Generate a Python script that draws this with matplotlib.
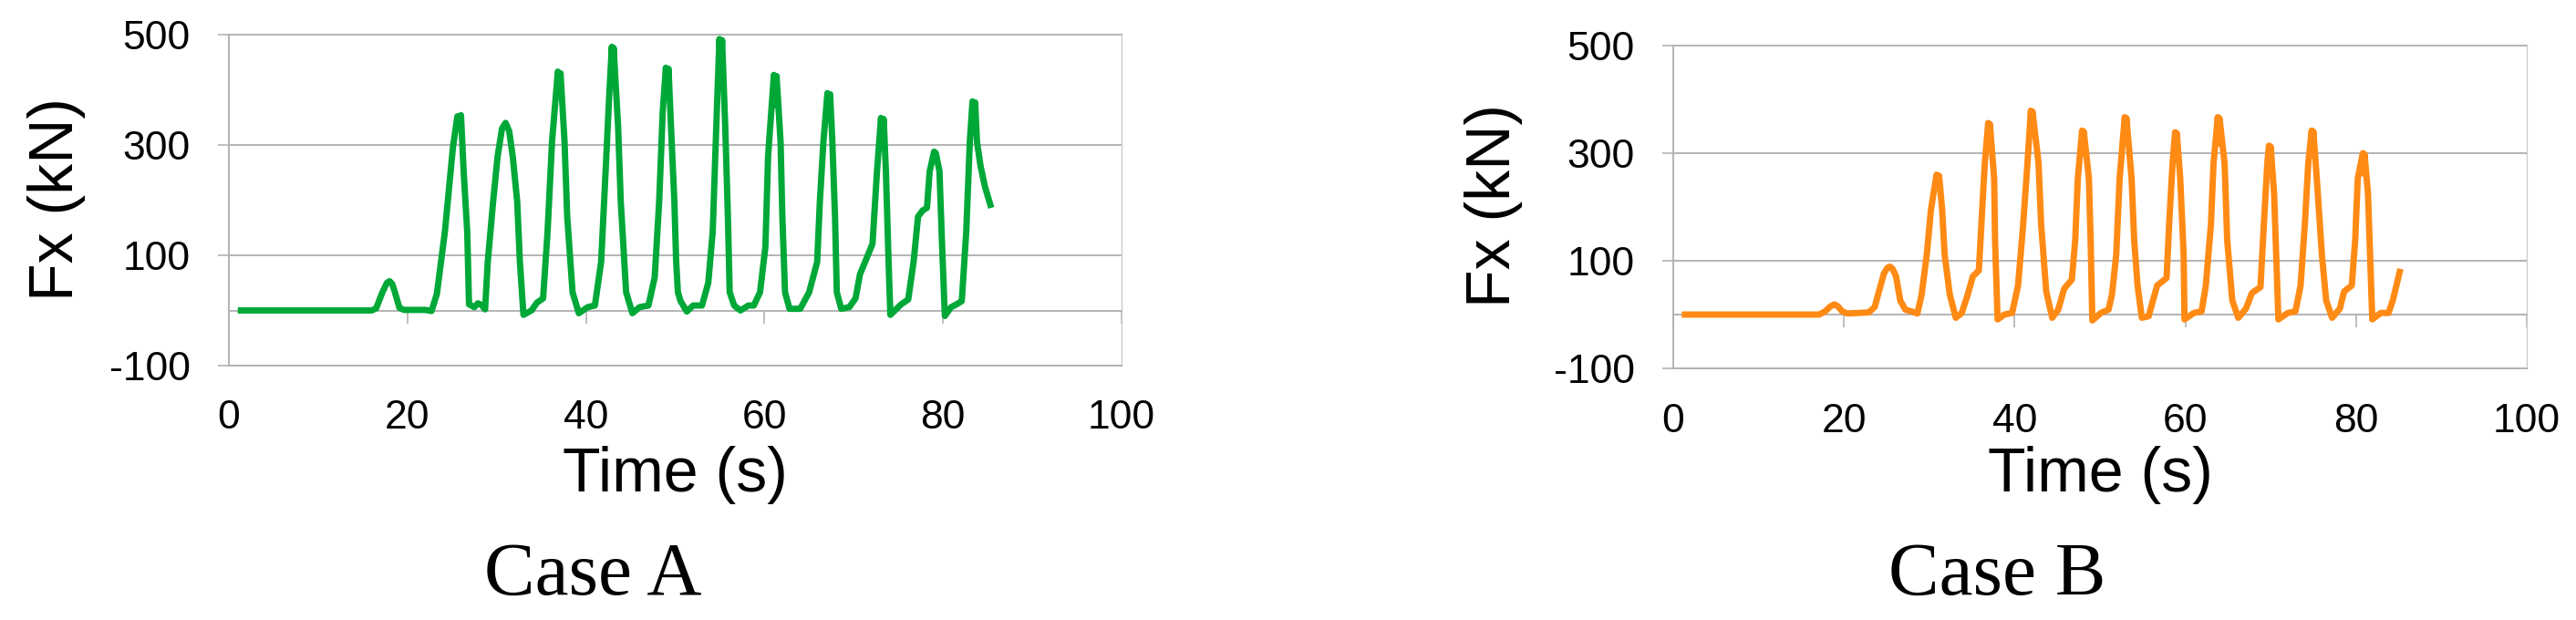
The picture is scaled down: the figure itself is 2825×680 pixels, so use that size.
import matplotlib
matplotlib.use('Agg')
import matplotlib.pyplot as plt

# ---------------- data ----------------
x_ticks = [0, 20, 40, 60, 80, 100]
x_tick_labels = ['0', '20', '40', '60', '80', '100']
y_ticks = [-100, 100, 300, 500]
y_tick_labels = ['-100', '100', '300', '500']

time_a = [1.0, 16.0, 16.5, 17.2, 17.7, 18.0, 18.3, 18.6, 19.1, 19.6, 22.0, 22.7, 23.3, 24.2, 25.1,
          25.6, 25.8, 26.0, 26.3, 26.7, 26.9, 27.5, 27.9, 28.3, 28.7, 29.0, 29.6, 30.1, 30.6, 31.0,
          31.4, 31.8, 32.3, 32.6, 33.0, 33.9, 34.5, 35.2, 35.7, 36.2, 36.85, 37.0, 37.15, 37.6, 37.9,
          38.5, 39.2, 40.2, 41.0, 41.7, 42.2, 42.6, 42.9, 43.0, 43.1, 43.6, 43.9, 44.5, 45.2, 46.0,
          47.0, 47.7, 48.2, 48.6, 48.95, 49.1, 49.25, 49.6, 49.9, 50.1, 50.3, 50.6, 51.3, 52.0, 53.0,
          53.7, 54.2, 54.6, 54.95, 55.1, 55.25, 55.6, 55.9, 56.1, 56.6, 57.3, 58.2, 58.8, 59.5, 60.1,
          60.4, 61.05, 61.2, 61.35, 61.8, 62.0, 62.3, 62.8, 64.0, 65.0, 65.9, 66.2, 66.6, 67.05, 67.2,
          67.35, 67.6, 67.9, 68.1, 68.6, 69.5, 70.2, 70.7, 71.4, 72.1, 72.6, 73.05, 73.2, 73.35, 73.6,
          73.9, 74.1, 75.3, 76.1, 76.7, 77.2, 77.7, 78.2, 78.5, 79.0, 79.2, 79.6, 79.9, 80.2, 80.9,
          81.5, 82.1, 82.6, 83.0, 83.3, 83.45, 83.6, 83.8, 84.2, 84.7, 85.4]
fx_a = [0, 0, 4, 33, 50, 53, 48, 33, 5, 1, 1, -1, 30, 143, 296,
        352, 336, 354, 252, 143, 11, 6, 13, 10, 2, 88, 197, 279, 330, 340,
        325, 279, 197, 88, -8, 0, 14, 22, 143, 306, 433, 400, 430, 306, 170,
        33, -5, 6, 9, 88, 252, 388, 478, 428, 476, 334, 197, 33, -5, 6,
        9, 60, 197, 361, 440, 398, 438, 306, 200, 90, 33, 17, -2, 9, 9,
        50, 143, 334, 492, 436, 490, 334, 170, 33, 9, 0, 9, 9, 33, 115,
        279, 427, 372, 425, 306, 170, 33, 3, 3, 33, 88, 197, 306, 394, 358,
        392, 306, 170, 33, 3, 6, 22, 66, 93, 121, 252, 349, 314, 347, 252,
        88, -8, 11, 20, 88, 170, 181, 186, 252, 288, 285, 252, 115, -10, 6,
        11, 17, 143, 306, 379, 356, 377, 306, 262, 224, 186]

time_b = [1.0, 17.1, 17.8, 18.4, 18.9, 19.3, 19.8, 20.4, 22.9, 23.6, 24.1, 24.7, 25.1, 25.4, 25.7,
          26.1, 26.6, 27.2, 28.1, 28.6, 29.1, 29.7, 30.2, 30.85, 31.0, 31.15, 31.5, 31.8, 32.4, 33.1,
          33.8, 34.5, 35.1, 35.8, 36.1, 36.5, 36.9, 37.0, 37.1, 37.6, 37.7, 38.0, 38.8, 39.7, 40.4,
          41.0, 41.5, 41.9, 42.0, 42.1, 42.8, 43.1, 43.7, 44.4, 45.1, 45.8, 46.7, 47.1, 47.4, 47.9,
          48.0, 48.1, 48.7, 48.9, 49.1, 50.1, 51.0, 51.4, 51.9, 52.3, 52.9, 53.0, 53.1, 53.7, 54.0,
          54.4, 54.9, 55.7, 56.2, 56.7, 57.8, 58.1, 58.5, 58.8, 58.9, 59.0, 59.4, 59.8, 59.9, 61.0,
          61.9, 62.4, 63.0, 63.3, 63.8, 63.9, 64.0, 64.6, 64.9, 65.5, 66.2, 67.1, 67.8, 68.8, 69.2,
          69.6, 69.8, 69.9, 70.0, 70.4, 70.7, 70.9, 72.0, 72.9, 73.5, 74.0, 74.4, 74.8, 74.9, 75.0,
          75.4, 76.0, 76.5, 77.2, 78.1, 78.6, 79.5, 79.9, 80.2, 80.8, 80.9, 81.0, 81.4, 81.7, 81.9,
          82.9, 83.8, 84.3, 85.2]
fx_b = [0, 0, 6, 15, 19, 15, 6, 2, 4, 14, 43, 77, 87, 89, 85,
        71, 26, 9, 5, 2, 37, 111, 196, 260, 240, 258, 196, 111, 37, -6,
        3, 37, 71, 82, 168, 281, 356, 313, 354, 253, 139, -9, 0, 3, 54,
        168, 281, 379, 345, 377, 281, 168, 43, -6, 9, 48, 65, 139, 253, 342,
        300, 340, 253, 139, -11, 3, 9, 37, 111, 253, 367, 336, 365, 253, 139,
        54, -6, -3, 26, 54, 68, 168, 281, 339, 298, 337, 253, 111, -9, 3,
        6, 54, 168, 281, 367, 318, 365, 281, 139, 26, -6, 11, 40, 51, 168,
        281, 314, 278, 312, 224, 82, -9, 3, 6, 54, 168, 281, 342, 308, 340,
        253, 111, 26, -6, 11, 43, 54, 139, 253, 300, 262, 298, 224, 82, -9,
        3, 3, 26, 85]

y_label = 'Fx (kN)'
x_label = 'Time (s)'
case_labels = ['Case A', 'Case B']

# ---------------- style ----------------
plt.rcParams['font.family'] = ['Liberation Sans', 'DejaVu Sans']
W, H = 2825, 680
grid_c = '#b3b3b3'
light_c = '#cccccc'
green = '#00a838'
orange = '#ff8a14'

fig = plt.figure(figsize=(W / 100, H / 100), dpi=100)


def rect(l, r, t, b):
    return [l / W, 1 - b / H, (r - l) / W, (b - t) / H]


axA = fig.add_axes(rect(251, 1230, 38, 401))
axB = fig.add_axes(rect(1835, 2771, 50, 404))


def style(ax):
    ax.set_xlim(0, 100)
    ax.set_ylim(-100, 500)
    ax.set_xticks(x_ticks)
    ax.set_xticklabels(x_tick_labels)
    ax.set_yticks(y_ticks)
    ax.set_yticklabels(y_tick_labels)
    ax.grid(axis='y', color=grid_c, lw=1.4)
    for gl in ax.get_ygridlines():
        gl.set_clip_on(False)
    ax.set_axisbelow(True)
    ax.spines['top'].set_position(('data', 0))
    ax.spines['top'].set_color(grid_c)
    ax.spines['top'].set_linewidth(1.4)
    ax.spines['left'].set_color(grid_c)
    ax.spines['left'].set_linewidth(1.4)
    ax.spines['bottom'].set_color(grid_c)
    ax.spines['bottom'].set_linewidth(1.4)
    ax.spines['right'].set_color(light_c)
    ax.spines['right'].set_linewidth(1.0)
    ax.tick_params(axis='x', bottom=False, top=True, labelbottom=True, labeltop=False,
                   direction='in', length=10, width=1.2, color=grid_c, pad=27, labelsize=32)
    ax.tick_params(axis='y', left=True, right=False, direction='out', length=8.5, width=1.2,
                   color=grid_c, pad=22, labelsize=32)


style(axA)
style(axB)
axA.plot(time_a, fx_a, color=green, lw=5.0, solid_joinstyle='round', solid_capstyle='butt', zorder=3)
axB.plot(time_b, fx_b, color=orange, lw=5.0, solid_joinstyle='round', solid_capstyle='butt', zorder=3)

fig.text(62 / W, 1 - 218 / H, y_label, rotation=90, ha='center', va='center', fontsize=49)
fig.text(1638 / W, 1 - 226 / H, y_label, rotation=90, ha='center', va='center', fontsize=49)
fig.text(740 / W, 1 - 539 / H, x_label, ha='center', va='baseline', fontsize=49)
fig.text(2303 / W, 1 - 539 / H, x_label, ha='center', va='baseline', fontsize=49)
fig.text(650 / W, 1 - 652 / H, case_labels[0], ha='center', va='baseline', fontsize=60,
         family=['Liberation Serif', 'DejaVu Serif'])
fig.text(2190 / W, 1 - 652 / H, case_labels[1], ha='center', va='baseline', fontsize=60,
         family=['Liberation Serif', 'DejaVu Serif'])

fig.savefig('out.png', dpi=100, facecolor='white')
